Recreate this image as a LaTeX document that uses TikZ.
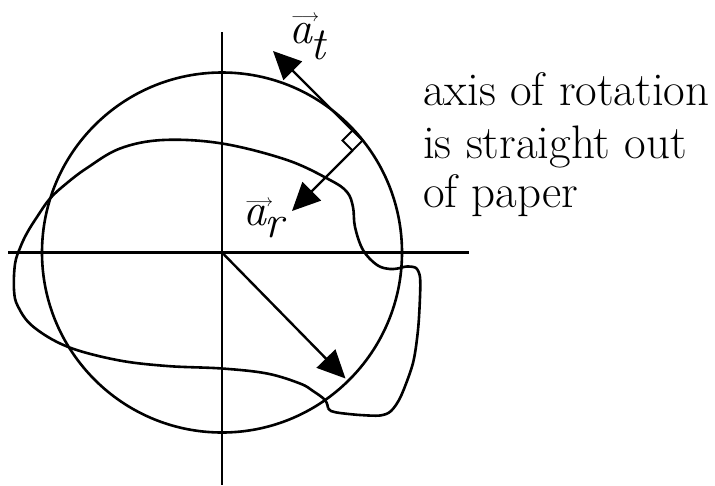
\documentclass[tikz,border=0pt]{standalone}
\usepackage{fontspec}
\usetikzlibrary{arrows.meta}
\begin{document}
\begin{tikzpicture}[x=1pt,y=-1pt,
  ln/.style={line width=2.6pt},
  thin ln/.style={line width=2pt},
  vecarrow/.style={line width=2.4pt, -{Triangle[length=28pt,width=26pt]}},
  lbl/.style={font=\fontsize{46}{51}\selectfont\itshape, inner sep=0pt, anchor=base west},
  txt/.style={font=\fontsize{47}{51}\selectfont, inner sep=0pt, anchor=base west},
]
\useasboundingbox (0,0) rectangle (715,485);
% axes and circle
\coordinate (O) at (222,252.5);
\coordinate (ytop) at (222,32);
\coordinate (ybot) at (222,485);
\coordinate (xl) at (8,252.5);
\coordinate (xr) at (469,252.5);
\draw[ln] (ytop) -- (ybot);
\draw[ln] (xl) -- (xr);
\draw[ln] (O) circle[radius=180];
% radius vector
\coordinate (rtip) at (345.5,378.5);
\draw[vecarrow] (O) -- (rtip);
% right-angle marker
\coordinate (R) at (362.5,140.5);
\coordinate (T) at (352.5,130.5);
\coordinate (B) at (352.5,150.5);
\coordinate (L) at (342.5,140.5);
\draw[thin ln] (T) -- (R) -- (B) -- (L) -- cycle;
% tangential and radial acceleration
\coordinate (ttip) at (273,51);
\coordinate (atip) at (292,211);
\draw[vecarrow] (T) -- (ttip);
\draw[vecarrow] (B) -- (atip);
% the body
\draw[ln] plot[smooth, tension=0.6] coordinates {(328,408) (325,400) (313,391) (300,383.5) (267,373.5) (222,368.5) (167,366) (117,360) (67,346.5) (33,326.5) (18,306.5) (14,290) (15,264) (20,248) (27,233) (37,217) (50,198.5) (67,183) (87,168) (120,148.5) (163,140) (222,143.5) (287,160) (330,180) (347,192) (353,207) (355,227) (363,250) (377,265) (390,269) (400,268)};
\draw[ln] plot[smooth, tension=0.5] coordinates {(400,268) (407,266.5) (416,268) (420,277) (420,297) (418,330) (413,363) (401,396) (391,411) (380,415.5) (360,415) (340,413) (331,411) (328,408)};
% labels
\node[lbl] (at) at (289,43) {\rlap{\kern2pt\raisebox{21.5pt}{\upshape\fontsize{18}{18}\selectfont$\longrightarrow$}}a\kern-2pt\raisebox{-16pt}{t}};
\node[lbl] (ar) at (243,225) {\rlap{\kern2pt\raisebox{18.5pt}{\upshape\fontsize{18}{18}\selectfont$\longrightarrow$}}a\kern-2pt\raisebox{-12pt}{r}};
% text
\node[txt] (t1) at (423,105) {axis of rotation};
\node[txt] (t2) at (423,158) {is straight out};
\node[txt] (t3) at (423,207) {of paper};
\end{tikzpicture}
\end{document}
